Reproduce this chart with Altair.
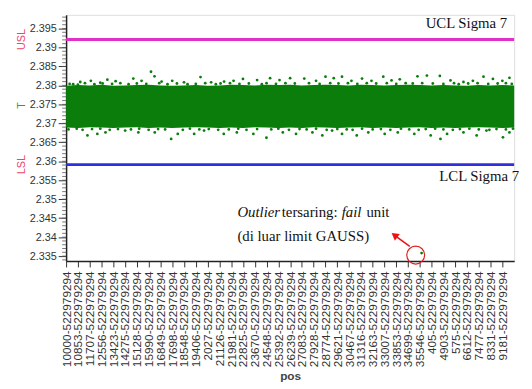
import altair as alt
import pandas as pd

# ---------------- data ----------------
pos_labels = [
    "10000-522979294", "10853-522979294", "11707-522979294", "12556-522979294",
    "13423-522979294", "14275-522979294", "15128-522979294", "15990-522979294",
    "16849-522979294", "17698-522979294", "18548-522979294", "19406-522979294",
    "2027-522979294", "21126-522979294", "21981-522979294", "22825-522979294",
    "23670-522979294", "24548-522979294", "25392-522979294", "26239-522979294",
    "27083-522979294", "27928-522979294", "28774-522979294", "29621-522979294",
    "30467-522979294", "31316-522979294", "32163-522979294", "33007-522979294",
    "33853-522979294", "34699-522979294", "35546-522979294", "405-522979294",
    "4903-522979294", "575-522979294", "6612-522979294", "7477-522979294",
    "8331-522979294", "9181-522979294",
]
y_ticks = [2.335, 2.34, 2.345, 2.35, 2.355, 2.36, 2.365, 2.37, 2.375, 2.38,
           2.385, 2.39, 2.395]
minor_ticks = [round(2.334 + 0.001 * i, 3) for i in range(65)]

USL = 2.3921
LSL = 2.3591

# dense core of the cloud (envelope read per category position)
band_x = list(range(39))
band_up = [2.3799, 2.3801, 2.3800, 2.3802, 2.3799, 2.3800, 2.3801, 2.3802, 2.3800,
           2.3799, 2.3800, 2.3801, 2.3799, 2.3800, 2.3802, 2.3801, 2.3800, 2.3802,
           2.3801, 2.3802, 2.3800, 2.3801, 2.3802, 2.3801, 2.3800, 2.3802, 2.3801,
           2.3800, 2.3801, 2.3802, 2.3801, 2.3800, 2.3801, 2.3800, 2.3799, 2.3801,
           2.3800, 2.3801, 2.3800]
band_lo = [2.3689, 2.3688, 2.3690, 2.3689, 2.3688, 2.3689, 2.3690, 2.3688, 2.3689,
           2.3688, 2.3689, 2.3690, 2.3689, 2.3688, 2.3689, 2.3688, 2.3690, 2.3689,
           2.3688, 2.3689, 2.3688, 2.3690, 2.3689, 2.3688, 2.3689, 2.3690, 2.3688,
           2.3689, 2.3688, 2.3689, 2.3690, 2.3688, 2.3689, 2.3688, 2.3689, 2.3690,
           2.3689, 2.3688, 2.3689]

# scattered points above the core
up_x = [0.6, 1.2, 2.1, 2.9, 3.5, 4.2, 5.7, 6.4, 7.2, 7.5, 8.1, 9.0, 10.0, 11.4,
        12.3, 13.4, 14.2, 15.0, 16.2, 17.3, 18.1, 19.0, 20.2, 21.2, 22.0, 22.7,
        23.4, 24.2, 25.1, 25.9, 26.9, 27.6, 28.3, 29.8, 30.6, 31.7, 32.6, 33.7,
        34.5, 35.4, 36.2, 37.0, 37.6]
up_y = [2.3803, 2.3809, 2.3812, 2.3807, 2.3815, 2.3811, 2.3818, 2.3812, 2.3836,
        2.3824, 2.3810, 2.3812, 2.3808, 2.3822, 2.3808, 2.3810, 2.3812, 2.3817,
        2.3814, 2.3819, 2.3814, 2.3819, 2.3818, 2.3812, 2.3823, 2.3819, 2.3823,
        2.3812, 2.3818, 2.3812, 2.3823, 2.3813, 2.3816, 2.3824, 2.3826, 2.3825,
        2.3813, 2.3809, 2.3812, 2.3823, 2.3817, 2.3812, 2.3820]
# ragged upper edge
ue_x = [0.3, 1.0, 1.6, 2.4, 3.1, 3.9, 4.6, 5.3, 6.0, 6.8, 7.9, 8.6, 9.4, 10.3,
        11.0, 11.8, 12.7, 13.1, 13.9, 14.7, 15.5, 16.6, 17.0, 17.8, 18.6, 19.4,
        20.6, 21.5, 22.4, 23.1, 23.9, 24.7, 25.5, 26.3, 27.2, 28.0, 28.8, 29.4,
        30.2, 31.1, 32.0, 32.9, 33.3, 34.1, 34.9, 35.8, 36.6, 37.3, 37.8]
ue_y = [2.3804, 2.3802, 2.3806, 2.3803, 2.3805, 2.3804, 2.3806, 2.3803, 2.3805,
        2.3804, 2.3806, 2.3803, 2.3805, 2.3803, 2.3804, 2.3806, 2.3803, 2.3805,
        2.3806, 2.3804, 2.3805, 2.3803, 2.3806, 2.3804, 2.3806, 2.3805, 2.3806,
        2.3804, 2.3806, 2.3805, 2.3806, 2.3804, 2.3806, 2.3805, 2.3806, 2.3804,
        2.3806, 2.3805, 2.3806, 2.3805, 2.3804, 2.3806, 2.3803, 2.3805, 2.3806,
        2.3804, 2.3805, 2.3806, 2.3804]

# scattered points below the core
lo_x = [1.81, 2.65, 3.34, 5.01, 6.13, 7.52, 8.91, 9.47, 10.86, 11.70, 13.37,
        14.48, 15.88, 16.99, 18.38, 19.50, 20.89, 21.73, 22.56, 23.40, 24.65,
        25.63, 27.02, 28.13, 29.53, 30.92, 31.75, 32.31, 33.70, 34.82, 35.65,
        37.05, 37.60]
lo_y = [2.3668, 2.3672, 2.3676, 2.3681, 2.3676, 2.3676, 2.3659, 2.3672, 2.3672,
        2.3681, 2.3672, 2.3676, 2.3672, 2.3662, 2.3676, 2.3672, 2.3676, 2.3668,
        2.3681, 2.3672, 2.3668, 2.3676, 2.3672, 2.3676, 2.3672, 2.3668, 2.3659,
        2.3672, 2.3676, 2.3668, 2.3681, 2.3663, 2.3676]
# ragged lower edge
le_x = [0.2, 0.9, 1.4, 2.2, 2.9, 3.7, 4.4, 5.5, 6.2, 7.0, 7.8, 8.4, 9.9, 10.5,
        11.3, 12.1, 12.9, 13.8, 14.6, 15.3, 16.2, 17.4, 18.0, 18.9, 19.8, 20.4,
        21.2, 22.1, 23.0, 23.8, 24.3, 25.1, 26.0, 26.7, 27.5, 28.4, 29.1, 29.9,
        30.5, 31.3, 32.0, 32.8, 33.4, 34.2, 35.0, 35.9, 36.5, 37.3, 37.9]
le_y = [2.3684, 2.3686, 2.3683, 2.3685, 2.3686, 2.3683, 2.3685, 2.3684, 2.3686,
        2.3683, 2.3685, 2.3684, 2.3683, 2.3686, 2.3684, 2.3685, 2.3683, 2.3684,
        2.3686, 2.3683, 2.3685, 2.3684, 2.3686, 2.3683, 2.3685, 2.3684, 2.3686,
        2.3683, 2.3685, 2.3684, 2.3683, 2.3686, 2.3684, 2.3685, 2.3683, 2.3686,
        2.3684, 2.3683, 2.3685, 2.3686, 2.3684, 2.3683, 2.3685, 2.3686, 2.3684,
        2.3683, 2.3685, 2.3684, 2.3686]

outlier_x = [30.15]
outlier_y = [2.3358]

# ---------------- frames ----------------
band_df = pd.DataFrame({"x": band_x, "up": band_up, "lo": band_lo})
pts_df = pd.DataFrame({
    "x": up_x + ue_x + lo_x + le_x + outlier_x,
    "y": up_y + ue_y + lo_y + le_y + outlier_y,
})
minor_df = pd.DataFrame({"y": minor_ticks})

label_expr = "[" + ",".join("'" + s + "'" for s in pos_labels) + "][datum.value]"

x_axis = alt.Axis(
    values=list(range(len(pos_labels))), labelExpr=label_expr, labelAngle=270,
    labelOverlap=False, labelFontSize=12, labelColor="#333333",
    labelFont="Liberation Sans", labelPadding=4, tickSize=6, tickColor="#333333",
    domainColor="#222222", domainWidth=1.5, grid=False,
    title="pos", titleFont="Liberation Sans", titleFontSize=12,
    titleFontWeight="bold", titleColor="#444444", titlePadding=4,
)
x_scale = alt.Scale(domain=[0, 38], nice=False, zero=False)
y_axis = alt.Axis(
    values=y_ticks, format=".3~f", labelOverlap=False, labelFontSize=11,
    labelColor="#333333", labelFont="Liberation Sans", labelPadding=2, tickSize=8,
    tickColor="#333333", domainColor="#222222", domainWidth=1.5, grid=False,
    title=None,
)
y_scale = alt.Scale(domain=[2.3337, 2.3986], nice=False, zero=False)


def X(field):
    return alt.X(field, scale=x_scale, axis=x_axis)


def Y(field):
    return alt.Y(field, scale=y_scale, axis=y_axis)


GREEN = "#0a7d0a"

band = alt.Chart(band_df).mark_area(color=GREEN, opacity=1).encode(
    x=X("x:Q"), y=Y("up:Q"), y2="lo:Q"
)
pts = alt.Chart(pts_df).mark_circle(size=8, color=GREEN, opacity=1).encode(
    x=X("x:Q"), y=Y("y:Q")
)
usl = alt.Chart(pd.DataFrame({"y": [USL]})).mark_rule(
    strokeWidth=2.8, color="#e030c8").encode(y=Y("y:Q"))
lsl = alt.Chart(pd.DataFrame({"y": [LSL]})).mark_rule(
    strokeWidth=2.8, color="#2f2fe0").encode(y=Y("y:Q"))
minor = alt.Chart(minor_df).mark_rule(color="#555555", strokeWidth=0.8).encode(
    y=Y("y:Q"), x=alt.value(-4), x2=alt.value(0)
)

# side labels
red_df = pd.DataFrame({"y": [USL, LSL], "t": ["USL", "LSL"]})
side_red = alt.Chart(red_df).mark_text(
    angle=270, fontSize=11, font="Liberation Sans", baseline="middle",
    align="center", color="#ee4466"
).encode(x=alt.value(-45), y=Y("y:Q"), text="t:N")
green_df = pd.DataFrame({"y": [2.3747], "t": ["T"]})
side_green = alt.Chart(green_df).mark_text(
    angle=270, fontSize=11, font="Liberation Sans", baseline="middle",
    align="center", color="#3a9a3a"
).encode(x=alt.value(-45), y=Y("y:Q"), text="t:N")

# annotations (in data units)
ann_df = pd.DataFrame({
    "x": [37.41, 38.42],
    "y": [2.39523, 2.35473],
    "t": ["UCL Sigma 7", "LCL Sigma 7"],
})
ann = alt.Chart(ann_df).mark_text(
    align="right", baseline="alphabetic", font="Liberation Serif", fontSize=15,
    color="#111111"
).encode(x=X("x:Q"), y=Y("y:Q"), text="t:N")

it_df = pd.DataFrame({"x": [14.53, 23.38], "y": [2.34538, 2.34538],
                      "t": ["Outlier", "fail"]})
note_it = alt.Chart(it_df).mark_text(
    align="left", baseline="alphabetic", font="Liberation Serif", fontSize=15,
    fontStyle="italic", color="#111111"
).encode(x=X("x:Q"), y=Y("y:Q"), text="t:N")
nm_df = pd.DataFrame({"x": [18.29, 25.47, 14.53],
                      "y": [2.34538, 2.34538, 2.33889],
                      "t": ["tersaring:", "unit", "(di luar limit GAUSS)"]})
note_n = alt.Chart(nm_df).mark_text(
    align="left", baseline="alphabetic", font="Liberation Serif", fontSize=15,
    color="#111111"
).encode(x=X("x:Q"), y=Y("y:Q"), text="t:N")

circ_df = pd.DataFrame({"x": [29.65], "y": [2.33526]})
circ = alt.Chart(circ_df).mark_point(
    shape="circle", size=330, filled=False, color="#e02020", strokeWidth=1.2,
    opacity=1
).encode(x=X("x:Q"), y=Y("y:Q"))

arrow_df = pd.DataFrame({"x": [29.15], "y": [2.33759], "x2": [27.95], "y2": [2.34025]})
arrow = alt.Chart(arrow_df).mark_rule(color="#ee1111", strokeWidth=1.6).encode(
    x=X("x:Q"), y=Y("y:Q"), x2="x2:Q", y2="y2:Q"
)
head_df = pd.DataFrame({"x": [27.85], "y": [2.34050]})
head = alt.Chart(head_df).mark_point(
    shape="triangle-up", size=70, filled=True, color="#ee1111", angle=307, opacity=1
).encode(x=X("x:Q"), y=Y("y:Q"))

chart = alt.layer(
    band, pts, usl, lsl, minor, side_red, side_green, ann, note_it, note_n,
    circ, arrow, head
).properties(
    width=455, height=250,
    autosize=alt.AutoSizeParams(type="none"),
    padding={"left": 59, "top": 4, "right": 10, "bottom": 127},
).configure_view(stroke=None).configure(background="white").configure_axisX(
    labelOverlap=False
).configure_axisY(labelOverlap=False)

chart.save("out.html", embed_options={"renderer": "svg", "actions": False})
